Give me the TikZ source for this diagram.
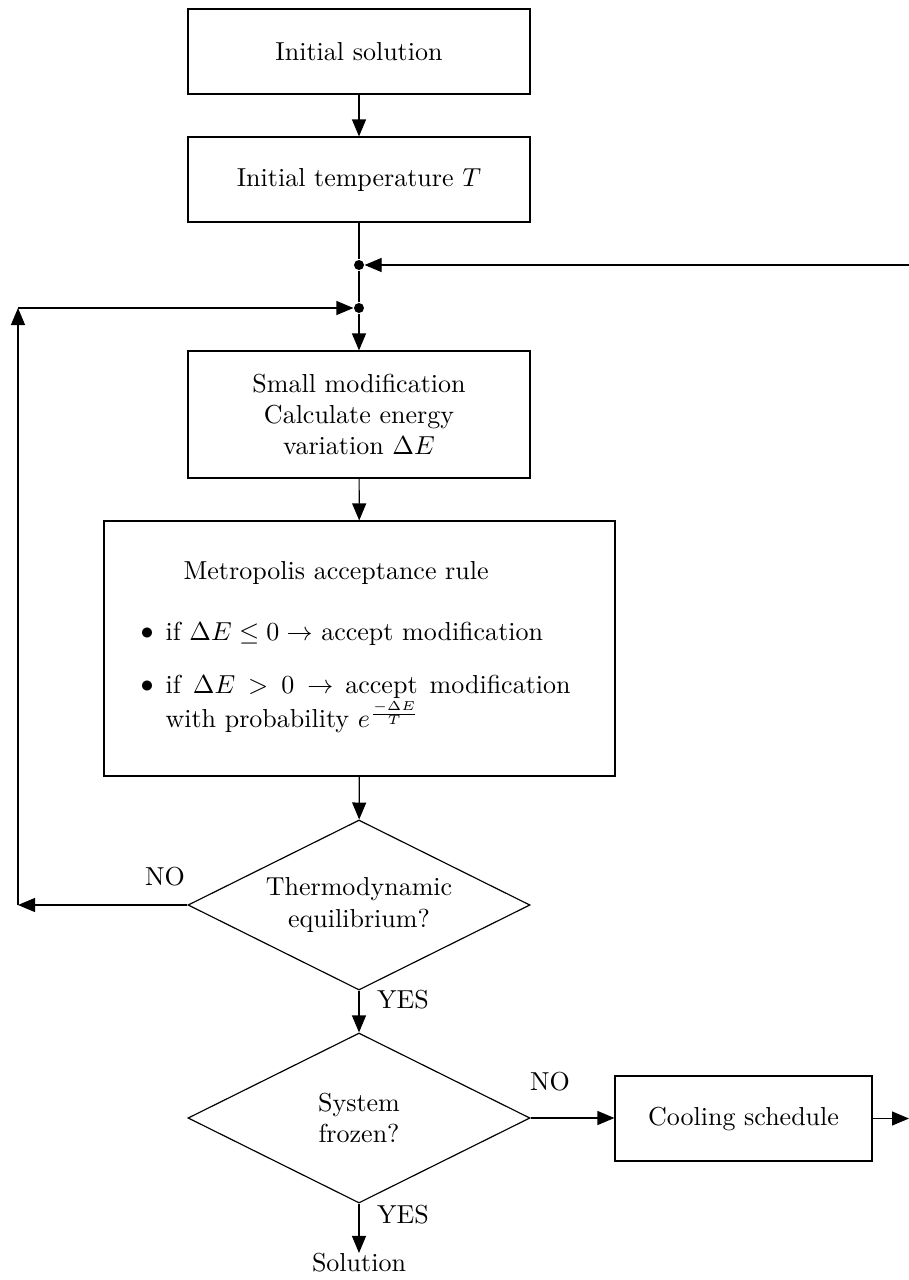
\documentclass[tikz,border=0pt]{standalone}
\usepackage{amsmath}
\usetikzlibrary{shapes.geometric,arrows.meta}
\newcommand\pxu{0.3846pt}
\begin{document}
\begin{tikzpicture}[x=\pxu,y=-\pxu,
  line width=0.45pt,
  stepbox/.style={draw,rectangle,inner sep=0pt,align=center,
    minimum width=342*\pxu,minimum height=85*\pxu},
  decision/.style={draw,diamond,aspect=2,inner sep=0pt,align=center,
    minimum width=342*\pxu,minimum height=170*\pxu},
  junction/.style={circle,fill,inner sep=0pt,minimum size=10*\pxu},
  flow/.style={-{Triangle[length=17*\pxu,width=14*\pxu]}},
  lbl/.style={inner sep=0pt}]
\useasboundingbox (0,0) rectangle (909,1280);
\clip (0,0) rectangle (909,1280);

% main column
\node[stepbox] (init) at (359,51.5) {Initial solution};
\node[stepbox] (temp) at (359,179.5) {Initial temperature $T$};
\node[junction] (j1) at (359,265) {};
\node[junction] (j2) at (359,308) {};
\node[stepbox,minimum height=127*\pxu] (mod) at (359,414.5)
  {Small modification\\Calculate energy\\variation $\Delta E$};

% Metropolis box with its list
\node[draw,rectangle,inner sep=0pt,minimum width=511*\pxu,minimum height=255*\pxu]
  (metro) at (359.5,648.5) {};
\node[lbl,anchor=base west] (mtitle) at (183,579) {Metropolis acceptance rule};
\node[lbl] (b1) at (147,634) {$\bullet$};
\node[lbl,anchor=base west] (i1) at (165,640) {if $\Delta E\leq 0\rightarrow$ accept modification};
\node[lbl] (b2) at (147,687) {$\bullet$};
\node[lbl,anchor=north west,text width=405*\pxu,align=justify] (i2) at (165,675)
  {if $\Delta E > 0 \rightarrow$ accept modification with probability $e^{\frac{-\Delta E}{T}}$};

\node[decision] (eq) at (359,905) {Thermodynamic\\equilibrium?};
\node[decision] (frozen) at (359,1118) {System\\frozen?};
\node[stepbox,minimum width=257*\pxu,minimum height=85*\pxu] (cool) at (743.5,1118.5) {Cooling schedule};
\node[lbl] (sol) at (359,1263) {Solution};

% loop corners and outgoing ends
\coordinate (c1) at (18,905);
\coordinate (c2) at (18,308);
\coordinate (r1) at (909,1118.5);
\coordinate (r2) at (940,265);

% connectors
\draw[flow] (init) -- (temp);
\draw (temp) -- (j1) -- (j2);
\draw[flow] (j2) -- (mod);
\draw[flow] (mod) -- (metro);
\draw[flow] (metro) -- (eq);
\draw[flow] (eq) -- (frozen);
\draw[flow] (frozen) -- (sol);
\draw[flow] (eq.west) -- (c1);
\draw[flow] (c1) -- (c2);
\draw[flow] (c2) -- (j2);
\draw[flow] (frozen.east) -- (frozen.east -| cool.west);
\draw[flow] (cool) -- (r1);
\draw[flow] (r2) -- (j1);

% branch labels
\node[lbl] at (165,877) {NO};
\node[lbl] at (403,1000) {YES};
\node[lbl] at (403,1215) {YES};
\node[lbl] at (550,1082) {NO};
\end{tikzpicture}
\end{document}
